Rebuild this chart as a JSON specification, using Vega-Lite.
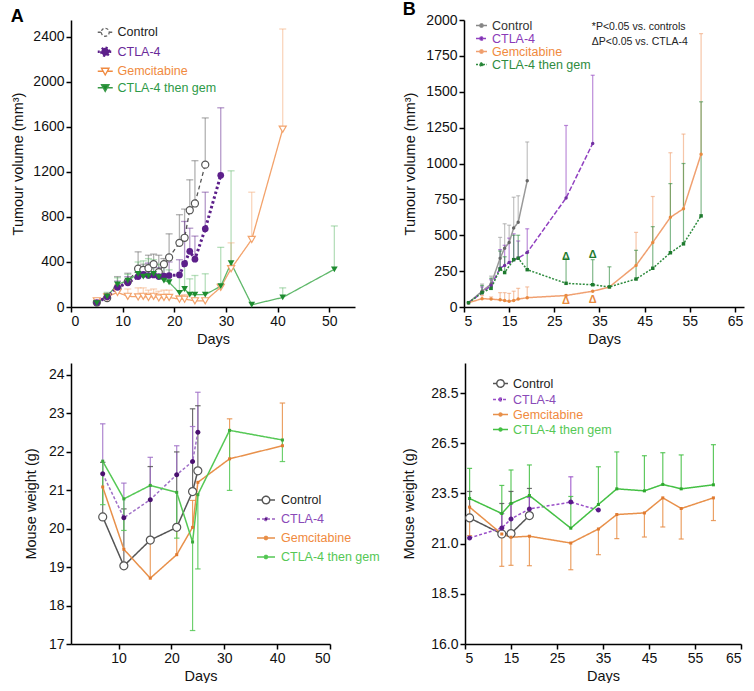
{
 "$schema": "https://vega.github.io/schema/vega-lite/v6.json",
 "padding": {"left": 5, "top": 1, "right": 3, "bottom": 0},
 "config": {
  "font": "Liberation Sans",
  "view": {"stroke": null},
  "axis": {"grid": false, "domainColor": "#000", "domainWidth": 1.5, "tickColor": "#000", "tickWidth": 1.5, "tickSize": 5, "labelFontSize": 14, "titleFontSize": 14.5, "titleFontWeight": "normal", "labelColor": "#111", "titleColor": "#111", "labelPadding": 2, "labelFont": "Liberation Sans", "titleFont": "Liberation Sans"},
  "axisX": {"titlePadding": 4},
  "title": {"fontSize": 18, "fontWeight": "bold", "anchor": "start", "frame": "bounds", "offset": -6, "color": "#000", "font": "Liberation Sans"},
  "legend": {"labelFont": "Liberation Sans", "padding": 0}
 },
 "datasets": {
  "dA": [
   {"group":"Control","day":5,"value":40},
   {"group":"Control","day":7,"value":80,"hi":110},
   {"group":"Control","day":9,"value":165,"hi":270},
   {"group":"Control","day":11,"value":225,"hi":300},
   {"group":"Control","day":13,"value":340,"hi":490},
   {"group":"Control","day":14,"value":330,"hi":380},
   {"group":"Control","day":15,"value":345,"hi":460},
   {"group":"Control","day":16,"value":380,"hi":470},
   {"group":"Control","day":17,"value":310,"hi":460},
   {"group":"Control","day":18,"value":380,"hi":430},
   {"group":"Control","day":19,"value":440,"hi":650},
   {"group":"Control","day":21,"value":570,"hi":820},
   {"group":"Control","day":22,"value":615,"hi":870},
   {"group":"Control","day":23,"value":860,"hi":1130},
   {"group":"Control","day":24,"value":920,"hi":1300},
   {"group":"Control","day":26,"value":1265,"hi":1680},
   {"group":"CTLA-4","day":5,"value":40},
   {"group":"CTLA-4","day":7,"value":90,"hi":120},
   {"group":"CTLA-4","day":9,"value":175,"hi":230},
   {"group":"CTLA-4","day":11,"value":215,"hi":270},
   {"group":"CTLA-4","day":13,"value":270,"hi":330},
   {"group":"CTLA-4","day":14,"value":290,"hi":360},
   {"group":"CTLA-4","day":15,"value":280,"hi":390},
   {"group":"CTLA-4","day":16,"value":285,"hi":380},
   {"group":"CTLA-4","day":17,"value":270,"hi":350},
   {"group":"CTLA-4","day":18,"value":275,"hi":380},
   {"group":"CTLA-4","day":19,"value":280,"hi":400},
   {"group":"CTLA-4","day":21,"value":285,"hi":420},
   {"group":"CTLA-4","day":22,"value":385,"hi":760},
   {"group":"CTLA-4","day":23,"value":495,"hi":700},
   {"group":"CTLA-4","day":24,"value":425,"hi":630},
   {"group":"CTLA-4","day":26,"value":695,"hi":1020},
   {"group":"CTLA-4","day":29,"value":1170,"hi":1770},
   {"group":"Gemcitabine","day":5,"value":55},
   {"group":"Gemcitabine","day":7,"value":90,"hi":120},
   {"group":"Gemcitabine","day":9,"value":130,"hi":200},
   {"group":"Gemcitabine","day":11,"value":95,"hi":160},
   {"group":"Gemcitabine","day":13,"value":90,"hi":170},
   {"group":"Gemcitabine","day":14,"value":95,"hi":170},
   {"group":"Gemcitabine","day":15,"value":85,"hi":150},
   {"group":"Gemcitabine","day":16,"value":95,"hi":160},
   {"group":"Gemcitabine","day":17,"value":80,"hi":140},
   {"group":"Gemcitabine","day":18,"value":85,"hi":150},
   {"group":"Gemcitabine","day":19,"value":85,"hi":150},
   {"group":"Gemcitabine","day":21,"value":70,"hi":100},
   {"group":"Gemcitabine","day":22,"value":70,"hi":110},
   {"group":"Gemcitabine","day":24,"value":55,"hi":80},
   {"group":"Gemcitabine","day":26,"value":55},
   {"group":"Gemcitabine","day":29,"value":175},
   {"group":"Gemcitabine","day":31,"value":340,"hi":570},
   {"group":"Gemcitabine","day":35,"value":600,"hi":1020},
   {"group":"Gemcitabine","day":41,"value":1580,"hi":2470},
   {"group":"CTLA-4 then gem","day":5,"value":35},
   {"group":"CTLA-4 then gem","day":7,"value":95,"hi":130},
   {"group":"CTLA-4 then gem","day":9,"value":200,"hi":260},
   {"group":"CTLA-4 then gem","day":11,"value":235,"hi":290},
   {"group":"CTLA-4 then gem","day":13,"value":295,"hi":400},
   {"group":"CTLA-4 then gem","day":14,"value":270,"hi":410},
   {"group":"CTLA-4 then gem","day":15,"value":275,"hi":430},
   {"group":"CTLA-4 then gem","day":16,"value":295,"hi":420},
   {"group":"CTLA-4 then gem","day":17,"value":265,"hi":380},
   {"group":"CTLA-4 then gem","day":18,"value":235,"hi":380},
   {"group":"CTLA-4 then gem","day":19,"value":220,"hi":330},
   {"group":"CTLA-4 then gem","day":21,"value":125,"hi":280},
   {"group":"CTLA-4 then gem","day":22,"value":160,"hi":400},
   {"group":"CTLA-4 then gem","day":23,"value":110,"hi":250},
   {"group":"CTLA-4 then gem","day":24,"value":110,"hi":280},
   {"group":"CTLA-4 then gem","day":26,"value":110,"hi":295},
   {"group":"CTLA-4 then gem","day":29,"value":185,"hi":530},
   {"group":"CTLA-4 then gem","day":31,"value":390,"hi":1210},
   {"group":"CTLA-4 then gem","day":35,"value":20},
   {"group":"CTLA-4 then gem","day":41,"value":85,"hi":170},
   {"group":"CTLA-4 then gem","day":51,"value":335,"hi":720}
  ],
  "dB": [
   {"group":"Control","day":6,"value":30},
   {"group":"Control","day":9,"value":110,"hi":160},
   {"group":"Control","day":11,"value":160,"hi":215},
   {"group":"Control","day":13,"value":340,"hi":485},
   {"group":"Control","day":14,"value":410,"hi":580},
   {"group":"Control","day":15,"value":450,"hi":570},
   {"group":"Control","day":16,"value":550,"hi":765},
   {"group":"Control","day":17,"value":590,"hi":775},
   {"group":"Control","day":19,"value":880,"hi":1150},
   {"group":"CTLA-4","day":6,"value":30},
   {"group":"CTLA-4","day":9,"value":100,"hi":140},
   {"group":"CTLA-4","day":11,"value":150,"hi":190},
   {"group":"CTLA-4","day":13,"value":270,"hi":400},
   {"group":"CTLA-4","day":14,"value":290,"hi":430},
   {"group":"CTLA-4","day":15,"value":310,"hi":480},
   {"group":"CTLA-4","day":16,"value":330,"hi":510},
   {"group":"CTLA-4","day":17,"value":340,"hi":460},
   {"group":"CTLA-4","day":19,"value":380,"hi":545},
   {"group":"CTLA-4","day":27.6,"value":760,"hi":1265},
   {"group":"CTLA-4","day":33.5,"value":1140,"hi":1615},
   {"group":"Gemcitabine","day":6,"value":30},
   {"group":"Gemcitabine","day":9,"value":58,"hi":80},
   {"group":"Gemcitabine","day":11,"value":55,"hi":70},
   {"group":"Gemcitabine","day":13,"value":50,"hi":100},
   {"group":"Gemcitabine","day":14,"value":45,"hi":100},
   {"group":"Gemcitabine","day":15,"value":40,"hi":95},
   {"group":"Gemcitabine","day":16,"value":45,"hi":110},
   {"group":"Gemcitabine","day":17,"value":55,"hi":130},
   {"group":"Gemcitabine","day":19,"value":65,"hi":140},
   {"group":"Gemcitabine","day":27.6,"value":80},
   {"group":"Gemcitabine","day":33.5,"value":110},
   {"group":"Gemcitabine","day":37.2,"value":140},
   {"group":"Gemcitabine","day":43.1,"value":290,"hi":520},
   {"group":"Gemcitabine","day":46.8,"value":450,"hi":770},
   {"group":"Gemcitabine","day":50.7,"value":625,"hi":1075},
   {"group":"Gemcitabine","day":53.6,"value":685,"hi":1205},
   {"group":"Gemcitabine","day":57.5,"value":1065,"hi":1905},
   {"group":"CTLA-4 then gem","day":6,"value":30},
   {"group":"CTLA-4 then gem","day":9,"value":100,"hi":150},
   {"group":"CTLA-4 then gem","day":11,"value":130,"hi":200},
   {"group":"CTLA-4 then gem","day":13,"value":265,"hi":390},
   {"group":"CTLA-4 then gem","day":14,"value":240,"hi":350},
   {"group":"CTLA-4 then gem","day":16,"value":330,"hi":500},
   {"group":"CTLA-4 then gem","day":17,"value":340,"hi":500},
   {"group":"CTLA-4 then gem","day":19,"value":260,"hi":380},
   {"group":"CTLA-4 then gem","day":27.6,"value":165,"hi":340},
   {"group":"CTLA-4 then gem","day":33.5,"value":155,"hi":330},
   {"group":"CTLA-4 then gem","day":37.2,"value":140,"hi":280},
   {"group":"CTLA-4 then gem","day":43.1,"value":195,"hi":395},
   {"group":"CTLA-4 then gem","day":46.8,"value":270,"hi":560},
   {"group":"CTLA-4 then gem","day":50.7,"value":378,"hi":860},
   {"group":"CTLA-4 then gem","day":53.6,"value":440,"hi":1000},
   {"group":"CTLA-4 then gem","day":57.5,"value":635,"hi":1430}
  ],
  "dBsig": [
   {"group":"CTLA-4 then gem","day":27.6,"value":345,"label":"Δ"},
   {"group":"CTLA-4 then gem","day":33.5,"value":360,"label":"Δ"},
   {"group":"Gemcitabine","day":27.6,"value":42,"label":"Δ"},
   {"group":"Gemcitabine","day":33.5,"value":48,"label":"Δ"}
  ],
  "dBnote": [
   {"note": "*P<0.05 vs. controls", "day": 33.3, "value": 1985},
   {"note": "ΔP<0.05 vs. CTLA-4", "day": 33.3, "value": 1885}
  ],
  "dC": [
   {"group":"Control","day":7,"value":20.3,"hi":21.72},
   {"group":"Control","day":11,"value":19.03,"hi":20.51},
   {"group":"Control","day":16,"value":19.7,"hi":21.61},
   {"group":"Control","day":21,"value":20.03,"hi":21.99},
   {"group":"Control","day":24,"value":20.96,"hi":23.11},
   {"group":"Control","day":25,"value":21.5,"hi":23.19},
   {"group":"CTLA-4","day":7,"value":21.42,"hi":22.72},
   {"group":"CTLA-4","day":11,"value":20.28,"hi":21.18},
   {"group":"CTLA-4","day":16,"value":20.75,"hi":21.85},
   {"group":"CTLA-4","day":21,"value":21.4,"hi":22.15},
   {"group":"CTLA-4","day":24,"value":21.74,"hi":22.65},
   {"group":"CTLA-4","day":25,"value":22.5,"hi":23.54},
   {"group":"Gemcitabine","day":7,"value":21.08},
   {"group":"Gemcitabine","day":11,"value":19.46},
   {"group":"Gemcitabine","day":16,"value":18.71,"hi":19.67},
   {"group":"Gemcitabine","day":21,"value":19.32,"hi":19.95},
   {"group":"Gemcitabine","day":24,"value":20.03,"hi":20.73},
   {"group":"Gemcitabine","day":25,"value":21.2},
   {"group":"Gemcitabine","day":31,"value":21.81,"hi":22.85},
   {"group":"Gemcitabine","day":41,"value":22.15,"hi":23.26},
   {"group":"CTLA-4 then gem","day":7,"value":21.75,"lo":20.62},
   {"group":"CTLA-4 then gem","day":11,"value":20.77,"lo":19.95},
   {"group":"CTLA-4 then gem","day":16,"value":21.12},
   {"group":"CTLA-4 then gem","day":21,"value":20.94,"lo":19.75},
   {"group":"CTLA-4 then gem","day":24,"value":19.65,"lo":17.35},
   {"group":"CTLA-4 then gem","day":25,"value":20.88,"lo":18.95},
   {"group":"CTLA-4 then gem","day":31,"value":22.55,"lo":20.99},
   {"group":"CTLA-4 then gem","day":41,"value":22.3,"lo":21.74}
  ],
  "dD": [
   {"group":"Control","day":6,"value":22.28,"hi":23.6},
   {"group":"Control","day":13,"value":21.48,"hi":23.0},
   {"group":"Control","day":15,"value":21.5,"hi":23.6},
   {"group":"Control","day":19,"value":22.4,"hi":23.75},
   {"group":"CTLA-4","day":6,"value":21.28},
   {"group":"CTLA-4","day":13,"value":21.78,"hi":22.5},
   {"group":"CTLA-4","day":15,"value":22.23,"hi":23.0},
   {"group":"CTLA-4","day":19,"value":22.73,"hi":23.3},
   {"group":"CTLA-4","day":28,"value":23.07,"hi":24.33},
   {"group":"CTLA-4","day":34,"value":22.67},
   {"group":"Gemcitabine","day":6,"value":22.82,"lo":21.4},
   {"group":"Gemcitabine","day":13,"value":21.48,"lo":19.87},
   {"group":"Gemcitabine","day":15,"value":21.32,"lo":19.92},
   {"group":"Gemcitabine","day":19,"value":21.37,"lo":19.9},
   {"group":"Gemcitabine","day":28,"value":21.03,"lo":19.7},
   {"group":"Gemcitabine","day":34,"value":21.73,"lo":20.45},
   {"group":"Gemcitabine","day":38,"value":22.45,"lo":21.25},
   {"group":"Gemcitabine","day":44,"value":22.53,"lo":21.33},
   {"group":"Gemcitabine","day":48,"value":23.28,"lo":21.83},
   {"group":"Gemcitabine","day":52,"value":22.75,"lo":21.23},
   {"group":"Gemcitabine","day":59,"value":23.28,"lo":22.15},
   {"group":"CTLA-4 then gem","day":6,"value":23.25,"hi":24.75},
   {"group":"CTLA-4 then gem","day":13,"value":22.5,"hi":23.9},
   {"group":"CTLA-4 then gem","day":15,"value":23.0,"hi":24.67},
   {"group":"CTLA-4 then gem","day":19,"value":23.4,"hi":24.92},
   {"group":"CTLA-4 then gem","day":28,"value":21.77,"hi":23.35},
   {"group":"CTLA-4 then gem","day":34,"value":22.95,"hi":24.83},
   {"group":"CTLA-4 then gem","day":38,"value":23.73,"hi":25.57},
   {"group":"CTLA-4 then gem","day":44,"value":23.63,"hi":25.38},
   {"group":"CTLA-4 then gem","day":48,"value":23.95,"hi":25.53},
   {"group":"CTLA-4 then gem","day":52,"value":23.73,"hi":25.42},
   {"group":"CTLA-4 then gem","day":59,"value":23.93,"hi":25.93}
  ]
 },
 "spacing": 15,
 "resolve": {"scale": {"x": "independent", "y": "independent", "color": "independent", "fill": "independent", "stroke": "independent", "shape": "independent", "strokeDash": "independent"}, "legend": {"color": "independent"}},
 "vconcat": [
  {
   "spacing": 47,
   "resolve": {"scale": {"x": "independent", "y": "independent", "color": "independent", "fill": "independent", "stroke": "independent", "shape": "independent", "strokeDash": "independent"}, "legend": {"color": "independent"}},
   "hconcat": [
    {
     "title": {"text": "A"},
     "width": 284, "height": 287,
     "data": {"name": "dA"},
     "encoding": {"x": {"field": "day", "type": "quantitative", "scale": {"domain": [0, 55], "nice": false}, "axis": {"values": [0, 10, 20, 30, 40, 50]}, "title": "Days"}},
     "layer": [
      {"transform": [{"filter": "isValid(datum.hi)"}],
       "mark": {"type": "rule", "strokeWidth": 1.3, "opacity": 0.45},
       "encoding": {
        "y": {"field": "value", "type": "quantitative", "scale": {"domain": [0, 2550], "nice": false}, "axis": {"values": [0, 400, 800, 1200, 1600, 2000, 2400], "format": "d", "titlePadding": 7}, "title": "Tumour volume (mm³)"},
        "y2": {"field": "hi"},
        "stroke": {"field": "group", "type": "nominal", "scale": {"domain": ["CTLA-4 then gem", "Gemcitabine", "CTLA-4", "Control"], "range": ["#5fb86a", "#f3a36c", "#5c1f8a", "#555555"]}, "legend": null}}},
      {"transform": [{"filter": "isValid(datum.hi)"}],
       "mark": {"type": "point", "shape": "stroke", "size": 49, "strokeWidth": 1.3, "opacity": 0.45, "filled": false},
       "encoding": {
        "y": {"field": "hi", "type": "quantitative", "scale": {"domain": [0, 2550], "nice": false}, "axis": {"values": [0, 400, 800, 1200, 1600, 2000, 2400], "format": "d", "titlePadding": 7}, "title": "Tumour volume (mm³)"},
        "stroke": {"field": "group", "type": "nominal", "scale": {"domain": ["CTLA-4 then gem", "Gemcitabine", "CTLA-4", "Control"], "range": ["#5fb86a", "#f3a36c", "#5c1f8a", "#555555"]}, "legend": null}}},
      {"transform": [{"filter": "datum.group !== 'CTLA-4'"}],
       "mark": {"type": "line", "strokeWidth": 1.3},
       "encoding": {
        "y": {"field": "value", "type": "quantitative", "scale": {"domain": [0, 2550], "nice": false}, "axis": {"values": [0, 400, 800, 1200, 1600, 2000, 2400], "format": "d", "titlePadding": 7}, "title": "Tumour volume (mm³)"},
        "stroke": {"field": "group", "type": "nominal", "scale": {"domain": ["CTLA-4 then gem", "Gemcitabine", "CTLA-4", "Control"], "range": ["#5fb86a", "#f3a36c", "#5c1f8a", "#555555"]}, "legend": null},
        "strokeDash": {"field": "group", "type": "nominal", "scale": {"domain": ["CTLA-4 then gem", "Gemcitabine", "CTLA-4", "Control"], "range": [[1, 0], [1, 0], [2, 2], [4, 3]]}, "legend": null}}},
      {"transform": [{"filter": "datum.group === 'CTLA-4'"}],
       "mark": {"type": "line", "strokeWidth": 3, "strokeDash": [2.5, 2.5]},
       "encoding": {
        "y": {"field": "value", "type": "quantitative", "scale": {"domain": [0, 2550], "nice": false}, "axis": {"values": [0, 400, 800, 1200, 1600, 2000, 2400], "format": "d", "titlePadding": 7}, "title": "Tumour volume (mm³)"},
        "stroke": {"field": "group", "type": "nominal", "scale": {"domain": ["CTLA-4 then gem", "Gemcitabine", "CTLA-4", "Control"], "range": ["#5fb86a", "#f3a36c", "#5c1f8a", "#555555"]}, "legend": null}}},
      {"transform": [{"filter": "datum.group === 'Control' || datum.group === 'Gemcitabine'"}],
       "mark": {"type": "point", "filled": false, "fill": "#ffffff", "opacity": 1, "strokeWidth": 1.2, "size": 50},
       "encoding": {
        "y": {"field": "value", "type": "quantitative", "scale": {"domain": [0, 2550], "nice": false}, "axis": {"values": [0, 400, 800, 1200, 1600, 2000, 2400], "format": "d", "titlePadding": 7}, "title": "Tumour volume (mm³)"},
        "shape": {"field": "group", "type": "nominal", "scale": {"domain": ["CTLA-4 then gem", "Gemcitabine", "CTLA-4", "Control"], "range": ["triangle-down", "triangle-down", "circle", "circle"]}, "legend": null},
        "stroke": {"field": "group", "type": "nominal", "scale": {"domain": ["CTLA-4 then gem", "Gemcitabine", "CTLA-4", "Control"], "range": ["#5fb86a", "#f3a36c", "#5c1f8a", "#555555"]}, "legend": null}}},
      {"transform": [{"filter": "datum.group === 'CTLA-4' || datum.group === 'CTLA-4 then gem'"}],
       "mark": {"type": "point", "filled": true, "opacity": 1, "size": 45},
       "encoding": {
        "y": {"field": "value", "type": "quantitative", "scale": {"domain": [0, 2550], "nice": false}, "axis": {"values": [0, 400, 800, 1200, 1600, 2000, 2400], "format": "d", "titlePadding": 7}, "title": "Tumour volume (mm³)"},
        "shape": {"field": "group", "type": "nominal", "scale": {"domain": ["CTLA-4 then gem", "Gemcitabine", "CTLA-4", "Control"], "range": ["triangle-down", "triangle-down", "circle", "circle"]}, "legend": null},
        "color": {"field": "group", "type": "nominal", "scale": {"domain": ["Control", "CTLA-4", "Gemcitabine", "CTLA-4 then gem"], "range": ["#ffffff", "#5c1f8a", "#ffffff", "#1e8c30"]},
         "legend": {"orient": "none", "legendX": 28, "legendY": 6, "labelFontSize": 12.5, "rowPadding": 3.5, "labelOffset": 6, "symbolSize": 225, "title": null, "symbolOpacity": 1,
          "symbolType": {"expr": "indexof(['Control','CTLA-4'], datum.value) >= 0 ? 'M-1,0L-0.53,0M0.53,0L1,0M-0.53,0A0.53,0.53 0 1,0 0.53,0A0.53,0.53 0 1,0 -0.53,0Z' : 'M-1,0L-0.3,0M0.3,0L1,0M-0.5,-0.4L0.5,-0.4L0,0.5Z'"},
          "symbolStrokeColor": {"expr": "['#666666','#5c1f8a','#f08a40','#3a9a48'][indexof(['Control','CTLA-4','Gemcitabine','CTLA-4 then gem'], datum.value)]"},
          "symbolDash": {"expr": "datum.value === 'Control' ? [3,2] : datum.value === 'CTLA-4' ? [2,2] : [1,0]"},
          "symbolStrokeWidth": {"expr": "datum.value === 'CTLA-4' ? 2.5 : 1.3"},
          "labelColor": {"expr": "['#222222','#6a2a9a','#f08a40','#2e9a48'][indexof(['Control','CTLA-4','Gemcitabine','CTLA-4 then gem'], datum.value)]"}}}}}
     ]
    },
    {
     "title": {"text": "B"},
     "width": 280, "height": 287,
     "data": {"name": "dB"},
     "encoding": {"x": {"field": "day", "type": "quantitative", "scale": {"domain": [5, 67], "nice": false, "zero": false}, "axis": {"values": [5, 15, 25, 35, 45, 55, 65]}, "title": "Days"}},
     "layer": [
      {"transform": [{"filter": "isValid(datum.hi)"}],
       "mark": {"type": "rule", "strokeWidth": 1.2, "opacity": 0.6},
       "encoding": {
        "y": {"field": "value", "type": "quantitative", "scale": {"domain": [0, 2000], "nice": false}, "axis": {"values": [0, 250, 500, 750, 1000, 1250, 1500, 1750, 2000], "format": "d", "titlePadding": 8}, "title": "Tumour volume (mm³)"},
        "y2": {"field": "hi"},
        "stroke": {"field": "group", "type": "nominal", "scale": {"domain": ["CTLA-4 then gem", "Gemcitabine", "CTLA-4", "Control"], "range": ["#2e8b3e", "#f0a070", "#9040c0", "#999999"]}, "legend": null}}},
      {"transform": [{"filter": "isValid(datum.hi)"}],
       "mark": {"type": "point", "shape": "stroke", "size": 16, "strokeWidth": 1.2, "opacity": 0.6, "filled": false},
       "encoding": {
        "y": {"field": "hi", "type": "quantitative", "scale": {"domain": [0, 2000], "nice": false}, "axis": {"values": [0, 250, 500, 750, 1000, 1250, 1500, 1750, 2000], "format": "d", "titlePadding": 8}, "title": "Tumour volume (mm³)"},
        "stroke": {"field": "group", "type": "nominal", "scale": {"domain": ["CTLA-4 then gem", "Gemcitabine", "CTLA-4", "Control"], "range": ["#2e8b3e", "#f0a070", "#9040c0", "#999999"]}, "legend": null}}},
      {"mark": {"type": "line", "strokeWidth": 1.5},
       "encoding": {
        "y": {"field": "value", "type": "quantitative", "scale": {"domain": [0, 2000], "nice": false}, "axis": {"values": [0, 250, 500, 750, 1000, 1250, 1500, 1750, 2000], "format": "d", "titlePadding": 8}, "title": "Tumour volume (mm³)"},
        "stroke": {"field": "group", "type": "nominal", "scale": {"domain": ["CTLA-4 then gem", "Gemcitabine", "CTLA-4", "Control"], "range": ["#2e8b3e", "#f0a070", "#9040c0", "#999999"]}, "legend": null},
        "strokeDash": {"field": "group", "type": "nominal", "scale": {"domain": ["CTLA-4 then gem", "Gemcitabine", "CTLA-4", "Control"], "range": [[2, 1.5], [1, 0], [5, 2], [1, 0]]}, "legend": null}}},
      {"mark": {"type": "point", "filled": true, "opacity": 1, "size": 12},
       "encoding": {
        "y": {"field": "value", "type": "quantitative", "scale": {"domain": [0, 2000], "nice": false}, "axis": {"values": [0, 250, 500, 750, 1000, 1250, 1500, 1750, 2000], "format": "d", "titlePadding": 8}, "title": "Tumour volume (mm³)"},
        "shape": {"field": "group", "type": "nominal", "scale": {"domain": ["CTLA-4 then gem", "Gemcitabine", "CTLA-4", "Control"], "range": ["square", "circle", "circle", "circle"]}, "legend": null},
        "color": {"field": "group", "type": "nominal", "scale": {"domain": ["Control", "CTLA-4", "Gemcitabine", "CTLA-4 then gem"], "range": ["#666666", "#7030a0", "#e88a40", "#1e7a2e"]},
         "legend": {"orient": "none", "legendX": 11, "legendY": -1, "labelFontSize": 12.5, "rowPadding": 0, "labelOffset": 4, "symbolSize": 121, "title": null, "symbolOpacity": 1,
          "symbolType": "M-1,0L1,0M-0.3,0A0.3,0.3 0 1,0 0.3,0A0.3,0.3 0 1,0 -0.3,0Z",
          "symbolStrokeColor": {"expr": "['#888888','#9040c0','#f0a070','#2e8b3e'][indexof(['Control','CTLA-4','Gemcitabine','CTLA-4 then gem'], datum.value)]"},
          "symbolDash": {"expr": "datum.value === 'CTLA-4' ? [4,2] : datum.value === 'CTLA-4 then gem' ? [2,1.5] : [1,0]"},
          "symbolStrokeWidth": 1.4,
          "labelColor": {"expr": "['#333333','#8a3ab8','#f08a40','#2e8b3e'][indexof(['Control','CTLA-4','Gemcitabine','CTLA-4 then gem'], datum.value)]"}}}}},
      {"data": {"name": "dBsig"},
       "mark": {"type": "text", "fontSize": 11, "fontWeight": "bold", "baseline": "middle"},
       "encoding": {
        "y": {"field": "value", "type": "quantitative", "scale": {"domain": [0, 2000], "nice": false}, "axis": {"values": [0, 250, 500, 750, 1000, 1250, 1500, 1750, 2000], "format": "d", "titlePadding": 8}, "title": "Tumour volume (mm³)"},
        "text": {"field": "label"},
        "fill": {"field": "group", "type": "nominal", "scale": {"domain": ["CTLA-4 then gem", "Gemcitabine", "CTLA-4", "Control"], "range": ["#1e7a2e", "#e88a40", "#7030a0", "#666666"]}, "legend": null}}},
      {"data": {"name": "dBnote"},
       "mark": {"type": "text", "align": "left", "baseline": "top", "fontSize": 10.5, "fill": "#222222"},
       "encoding": {
        "y": {"field": "value", "type": "quantitative", "scale": {"domain": [0, 2000], "nice": false}, "axis": {"values": [0, 250, 500, 750, 1000, 1250, 1500, 1750, 2000], "format": "d", "titlePadding": 8}, "title": "Tumour volume (mm³)"},
        "text": {"field": "note"}}}
     ]
    }
   ]
  },
  {
   "spacing": 21,
   "resolve": {"scale": {"x": "independent", "y": "independent", "color": "independent", "fill": "independent", "stroke": "independent", "shape": "independent", "strokeDash": "independent"}, "legend": {"color": "independent"}},
   "hconcat": [
    {
     "title": {"text": " ", "fontSize": 2, "offset": 0, "anchor": "start", "frame": "group", "dx": -66},
     "width": 259, "height": 281,
     "data": {"name": "dC"},
     "encoding": {"x": {"field": "day", "type": "quantitative", "scale": {"domain": [1, 50], "nice": false, "zero": false}, "axis": {"values": [10, 20, 30, 40, 50]}, "title": "Days"}},
     "layer": [
      {"transform": [{"filter": "isValid(datum.hi)"}],
       "mark": {"type": "rule", "strokeWidth": 1.2, "opacity": 0.85},
       "encoding": {
        "y": {"field": "value", "type": "quantitative", "scale": {"domain": [17, 24.3], "nice": false, "zero": false}, "axis": {"values": [17, 18, 19, 20, 21, 22, 23, 24], "titlePadding": 10}, "title": "Mouse weight (g)"},
        "y2": {"field": "hi"},
        "stroke": {"field": "group", "type": "nominal", "scale": {"domain": ["CTLA-4 then gem", "Gemcitabine", "CTLA-4", "Control"], "range": ["#55c855", "#e8904a", "#a070c8", "#555555"]}, "legend": null}}},
      {"transform": [{"filter": "isValid(datum.hi)"}],
       "mark": {"type": "point", "shape": "stroke", "size": 30, "strokeWidth": 1.2, "opacity": 0.85, "filled": false},
       "encoding": {
        "y": {"field": "hi", "type": "quantitative", "scale": {"domain": [17, 24.3], "nice": false, "zero": false}, "axis": {"values": [17, 18, 19, 20, 21, 22, 23, 24], "titlePadding": 10}, "title": "Mouse weight (g)"},
        "stroke": {"field": "group", "type": "nominal", "scale": {"domain": ["CTLA-4 then gem", "Gemcitabine", "CTLA-4", "Control"], "range": ["#55c855", "#e8904a", "#a070c8", "#555555"]}, "legend": null}}},
      {"transform": [{"filter": "isValid(datum.lo)"}],
       "mark": {"type": "rule", "strokeWidth": 1.2, "opacity": 0.85},
       "encoding": {
        "y": {"field": "lo", "type": "quantitative", "scale": {"domain": [17, 24.3], "nice": false, "zero": false}, "axis": {"values": [17, 18, 19, 20, 21, 22, 23, 24], "titlePadding": 10}, "title": "Mouse weight (g)"},
        "y2": {"field": "value"},
        "stroke": {"field": "group", "type": "nominal", "scale": {"domain": ["CTLA-4 then gem", "Gemcitabine", "CTLA-4", "Control"], "range": ["#55c855", "#e8904a", "#a070c8", "#555555"]}, "legend": null}}},
      {"transform": [{"filter": "isValid(datum.lo)"}],
       "mark": {"type": "point", "shape": "stroke", "size": 30, "strokeWidth": 1.2, "opacity": 0.85, "filled": false},
       "encoding": {
        "y": {"field": "lo", "type": "quantitative", "scale": {"domain": [17, 24.3], "nice": false, "zero": false}, "axis": {"values": [17, 18, 19, 20, 21, 22, 23, 24], "titlePadding": 10}, "title": "Mouse weight (g)"},
        "stroke": {"field": "group", "type": "nominal", "scale": {"domain": ["CTLA-4 then gem", "Gemcitabine", "CTLA-4", "Control"], "range": ["#55c855", "#e8904a", "#a070c8", "#555555"]}, "legend": null}}},
      {"mark": {"type": "line", "strokeWidth": 1.5},
       "encoding": {
        "y": {"field": "value", "type": "quantitative", "scale": {"domain": [17, 24.3], "nice": false, "zero": false}, "axis": {"values": [17, 18, 19, 20, 21, 22, 23, 24], "titlePadding": 10}, "title": "Mouse weight (g)"},
        "stroke": {"field": "group", "type": "nominal", "scale": {"domain": ["CTLA-4 then gem", "Gemcitabine", "CTLA-4", "Control"], "range": ["#55c855", "#e8904a", "#a070c8", "#555555"]}, "legend": null},
        "strokeDash": {"field": "group", "type": "nominal", "scale": {"domain": ["CTLA-4 then gem", "Gemcitabine", "CTLA-4", "Control"], "range": [[1, 0], [1, 0], [3, 2], [1, 0]]}, "legend": null}}},
      {"transform": [{"filter": "datum.group === 'Control'"}],
       "mark": {"type": "point", "filled": false, "fill": "#ffffff", "opacity": 1, "strokeWidth": 1.2, "size": 100},
       "encoding": {
        "y": {"field": "value", "type": "quantitative", "scale": {"domain": [17, 24.3], "nice": false, "zero": false}, "axis": {"values": [17, 18, 19, 20, 21, 22, 23, 24], "titlePadding": 10}, "title": "Mouse weight (g)"},
        "shape": {"field": "group", "type": "nominal", "scale": {"domain": ["CTLA-4 then gem", "Gemcitabine", "CTLA-4", "Control"], "range": ["M-0.3,-0.3L0.3,-0.3L0.3,0.3L-0.3,0.3Z", "M-0.3,-0.3L0.3,-0.3L0.3,0.3L-0.3,0.3Z", "M-0.5,0A0.5,0.5 0 1,0 0.5,0A0.5,0.5 0 1,0 -0.5,0Z", "M-0.8,0A0.8,0.8 0 1,0 0.8,0A0.8,0.8 0 1,0 -0.8,0Z"]}, "legend": null},
        "stroke": {"field": "group", "type": "nominal", "scale": {"domain": ["CTLA-4 then gem", "Gemcitabine", "CTLA-4", "Control"], "range": ["#55c855", "#e8904a", "#a070c8", "#555555"]}, "legend": null}}},
      {"transform": [{"filter": "datum.group !== 'Control'"}],
       "mark": {"type": "point", "filled": true, "opacity": 1, "size": 100},
       "encoding": {
        "y": {"field": "value", "type": "quantitative", "scale": {"domain": [17, 24.3], "nice": false, "zero": false}, "axis": {"values": [17, 18, 19, 20, 21, 22, 23, 24], "titlePadding": 10}, "title": "Mouse weight (g)"},
        "shape": {"field": "group", "type": "nominal", "scale": {"domain": ["CTLA-4 then gem", "Gemcitabine", "CTLA-4", "Control"], "range": ["M-0.3,-0.3L0.3,-0.3L0.3,0.3L-0.3,0.3Z", "M-0.3,-0.3L0.3,-0.3L0.3,0.3L-0.3,0.3Z", "M-0.5,0A0.5,0.5 0 1,0 0.5,0A0.5,0.5 0 1,0 -0.5,0Z", "M-0.8,0A0.8,0.8 0 1,0 0.8,0A0.8,0.8 0 1,0 -0.8,0Z"]}, "legend": null},
        "color": {"field": "group", "type": "nominal", "scale": {"domain": ["Control", "CTLA-4", "Gemcitabine", "CTLA-4 then gem"], "range": ["#ffffff", "#4a1070", "#e07a30", "#3aa83a"]},
         "legend": {"orient": "none", "legendX": 185, "legendY": 127, "labelFontSize": 12.5, "rowPadding": 2, "labelOffset": 5, "symbolSize": 324, "title": null, "symbolOpacity": 1,
          "symbolType": {"expr": "datum.value === 'Control' ? 'M-1,0L-0.42,0M0.42,0L1,0M-0.42,0A0.42,0.42 0 1,0 0.42,0A0.42,0.42 0 1,0 -0.42,0Z' : 'M-1,0L1,0M-0.18,0A0.18,0.18 0 1,0 0.18,0A0.18,0.18 0 1,0 -0.18,0Z'"},
          "symbolStrokeColor": {"expr": "['#555555','#9a60c0','#e8904a','#55c855'][indexof(['Control','CTLA-4','Gemcitabine','CTLA-4 then gem'], datum.value)]"},
          "symbolDash": {"expr": "datum.value === 'CTLA-4' ? [3,2] : [1,0]"},
          "symbolStrokeWidth": 1.4,
          "labelColor": {"expr": "['#222222','#8a4ab8','#f08a40','#55c855'][indexof(['Control','CTLA-4','Gemcitabine','CTLA-4 then gem'], datum.value)]"}}}}}
     ]
    },
    {
     "width": 276, "height": 281,
     "data": {"name": "dD"},
     "encoding": {"x": {"field": "day", "type": "quantitative", "scale": {"domain": [5, 65], "nice": false, "zero": false}, "axis": {"values": [5, 15, 25, 35, 45, 55, 65]}, "title": "Days"}},
     "layer": [
      {"transform": [{"filter": "isValid(datum.hi)"}],
       "mark": {"type": "rule", "strokeWidth": 1.2, "opacity": 0.85},
       "encoding": {
        "y": {"field": "value", "type": "quantitative", "scale": {"domain": [16, 30], "nice": false, "zero": false}, "axis": {"values": [16, 18.5, 21, 23.5, 26, 28.5], "labelExpr": "datum.value === 26 ? '26.5' : format(datum.value, '.1f')", "titlePadding": 14}, "title": "Mouse weight (g)"},
        "y2": {"field": "hi"},
        "stroke": {"field": "group", "type": "nominal", "scale": {"domain": ["CTLA-4 then gem", "Gemcitabine", "CTLA-4", "Control"], "range": ["#44c044", "#e8904a", "#9a50c8", "#555555"]}, "legend": null}}},
      {"transform": [{"filter": "isValid(datum.hi)"}],
       "mark": {"type": "point", "shape": "stroke", "size": 25, "strokeWidth": 1.2, "opacity": 0.85, "filled": false},
       "encoding": {
        "y": {"field": "hi", "type": "quantitative", "scale": {"domain": [16, 30], "nice": false, "zero": false}, "axis": {"values": [16, 18.5, 21, 23.5, 26, 28.5], "labelExpr": "datum.value === 26 ? '26.5' : format(datum.value, '.1f')", "titlePadding": 14}, "title": "Mouse weight (g)"},
        "stroke": {"field": "group", "type": "nominal", "scale": {"domain": ["CTLA-4 then gem", "Gemcitabine", "CTLA-4", "Control"], "range": ["#44c044", "#e8904a", "#9a50c8", "#555555"]}, "legend": null}}},
      {"transform": [{"filter": "isValid(datum.lo)"}],
       "mark": {"type": "rule", "strokeWidth": 1.2, "opacity": 0.85},
       "encoding": {
        "y": {"field": "lo", "type": "quantitative", "scale": {"domain": [16, 30], "nice": false, "zero": false}, "axis": {"values": [16, 18.5, 21, 23.5, 26, 28.5], "labelExpr": "datum.value === 26 ? '26.5' : format(datum.value, '.1f')", "titlePadding": 14}, "title": "Mouse weight (g)"},
        "y2": {"field": "value"},
        "stroke": {"field": "group", "type": "nominal", "scale": {"domain": ["CTLA-4 then gem", "Gemcitabine", "CTLA-4", "Control"], "range": ["#44c044", "#e8904a", "#9a50c8", "#555555"]}, "legend": null}}},
      {"transform": [{"filter": "isValid(datum.lo)"}],
       "mark": {"type": "point", "shape": "stroke", "size": 25, "strokeWidth": 1.2, "opacity": 0.85, "filled": false},
       "encoding": {
        "y": {"field": "lo", "type": "quantitative", "scale": {"domain": [16, 30], "nice": false, "zero": false}, "axis": {"values": [16, 18.5, 21, 23.5, 26, 28.5], "labelExpr": "datum.value === 26 ? '26.5' : format(datum.value, '.1f')", "titlePadding": 14}, "title": "Mouse weight (g)"},
        "stroke": {"field": "group", "type": "nominal", "scale": {"domain": ["CTLA-4 then gem", "Gemcitabine", "CTLA-4", "Control"], "range": ["#44c044", "#e8904a", "#9a50c8", "#555555"]}, "legend": null}}},
      {"mark": {"type": "line", "strokeWidth": 1.5},
       "encoding": {
        "y": {"field": "value", "type": "quantitative", "scale": {"domain": [16, 30], "nice": false, "zero": false}, "axis": {"values": [16, 18.5, 21, 23.5, 26, 28.5], "labelExpr": "datum.value === 26 ? '26.5' : format(datum.value, '.1f')", "titlePadding": 14}, "title": "Mouse weight (g)"},
        "stroke": {"field": "group", "type": "nominal", "scale": {"domain": ["CTLA-4 then gem", "Gemcitabine", "CTLA-4", "Control"], "range": ["#44c044", "#e8904a", "#9a50c8", "#555555"]}, "legend": null},
        "strokeDash": {"field": "group", "type": "nominal", "scale": {"domain": ["CTLA-4 then gem", "Gemcitabine", "CTLA-4", "Control"], "range": [[1, 0], [1, 0], [3, 2], [1, 0]]}, "legend": null}}},
      {"transform": [{"filter": "datum.group === 'Control'"}],
       "mark": {"type": "point", "filled": false, "fill": "#ffffff", "opacity": 1, "strokeWidth": 1.2, "size": 100},
       "encoding": {
        "y": {"field": "value", "type": "quantitative", "scale": {"domain": [16, 30], "nice": false, "zero": false}, "axis": {"values": [16, 18.5, 21, 23.5, 26, 28.5], "labelExpr": "datum.value === 26 ? '26.5' : format(datum.value, '.1f')", "titlePadding": 14}, "title": "Mouse weight (g)"},
        "shape": {"field": "group", "type": "nominal", "scale": {"domain": ["CTLA-4 then gem", "Gemcitabine", "CTLA-4", "Control"], "range": ["M-0.3,-0.3L0.3,-0.3L0.3,0.3L-0.3,0.3Z", "M-0.3,-0.3L0.3,-0.3L0.3,0.3L-0.3,0.3Z", "M-0.5,0A0.5,0.5 0 1,0 0.5,0A0.5,0.5 0 1,0 -0.5,0Z", "M-0.8,0A0.8,0.8 0 1,0 0.8,0A0.8,0.8 0 1,0 -0.8,0Z"]}, "legend": null},
        "stroke": {"field": "group", "type": "nominal", "scale": {"domain": ["CTLA-4 then gem", "Gemcitabine", "CTLA-4", "Control"], "range": ["#44c044", "#e8904a", "#9a50c8", "#555555"]}, "legend": null}}},
      {"transform": [{"filter": "datum.group !== 'Control'"}],
       "mark": {"type": "point", "filled": true, "opacity": 1, "size": 100},
       "encoding": {
        "y": {"field": "value", "type": "quantitative", "scale": {"domain": [16, 30], "nice": false, "zero": false}, "axis": {"values": [16, 18.5, 21, 23.5, 26, 28.5], "labelExpr": "datum.value === 26 ? '26.5' : format(datum.value, '.1f')", "titlePadding": 14}, "title": "Mouse weight (g)"},
        "shape": {"field": "group", "type": "nominal", "scale": {"domain": ["CTLA-4 then gem", "Gemcitabine", "CTLA-4", "Control"], "range": ["M-0.3,-0.3L0.3,-0.3L0.3,0.3L-0.3,0.3Z", "M-0.3,-0.3L0.3,-0.3L0.3,0.3L-0.3,0.3Z", "M-0.5,0A0.5,0.5 0 1,0 0.5,0A0.5,0.5 0 1,0 -0.5,0Z", "M-0.8,0A0.8,0.8 0 1,0 0.8,0A0.8,0.8 0 1,0 -0.8,0Z"]}, "legend": null},
        "color": {"field": "group", "type": "nominal", "scale": {"domain": ["Control", "CTLA-4", "Gemcitabine", "CTLA-4 then gem"], "range": ["#ffffff", "#5a1a8a", "#e07a30", "#2ea82e"]},
         "legend": {"orient": "none", "legendX": 27, "legendY": 12, "labelFontSize": 12.5, "rowPadding": 0, "labelOffset": 4, "symbolSize": 225, "title": null, "symbolOpacity": 1,
          "symbolType": {"expr": "datum.value === 'Control' ? 'M-1,0L-0.5,0M0.5,0L1,0M-0.5,0A0.5,0.5 0 1,0 0.5,0A0.5,0.5 0 1,0 -0.5,0Z' : 'M-1,0L1,0M-0.2,0A0.2,0.2 0 1,0 0.2,0A0.2,0.2 0 1,0 -0.2,0Z'"},
          "symbolStrokeColor": {"expr": "['#555555','#9a50c8','#e8904a','#44c044'][indexof(['Control','CTLA-4','Gemcitabine','CTLA-4 then gem'], datum.value)]"},
          "symbolDash": {"expr": "datum.value === 'CTLA-4' ? [3,2] : [1,0]"},
          "symbolStrokeWidth": 1.4,
          "labelColor": {"expr": "['#222222','#8a4ab8','#f08a40','#55c855'][indexof(['Control','CTLA-4','Gemcitabine','CTLA-4 then gem'], datum.value)]"}}}}}
     ]
    }
   ]
  }
 ]
}
